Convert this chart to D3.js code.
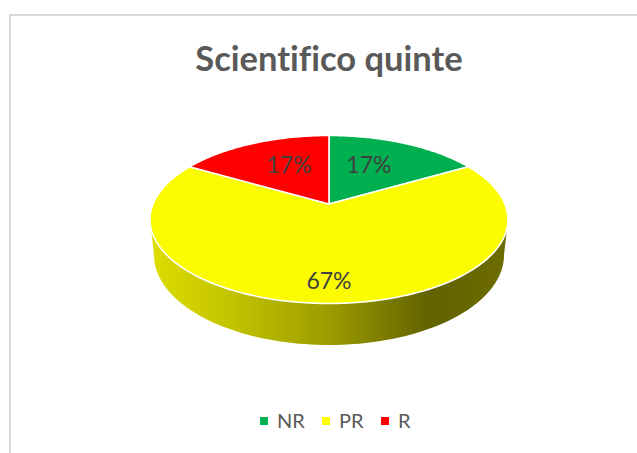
<!DOCTYPE html>
<html>
<head>
<meta charset="utf-8">
<script src="https://cdn.jsdelivr.net/npm/d3@7/dist/d3.min.js"></script>
<style>
html,body{margin:0;padding:0;background:#fff;overflow:hidden}
text{font-family:Lato,"Open Sans",sans-serif;fill:#595959;font-variant-ligatures:none}
</style>
</head>
<body>
<svg id="c" width="637" height="453"></svg>
<script>
const title = "Scientifico quinte";
const categories = ["NR", "PR", "R"];
const values = [1, 4, 1];
const labels = ["17%", "67%", "17%"];
const colors = ["#00B050", "#FCFC00", "#FF0000"];

const svg = d3.select("#c");
const cx = 329, cy = 219.5, rx = 179, ry = 84, k = -0.185;
const labelR = [0.583, 0.81, 0.583];
const labelShift = [-4.7, 0, 4.7].map(d => d * Math.PI / 180);

// perspective projection of the unit disc on the ellipse of the top face
function project(angle, r) {
  const x = r * Math.sin(angle), y = -r * Math.cos(angle);
  const d = 1 + k * y;
  return [cx + rx * x * Math.sqrt(1 - k * k) / d, cy + ry * (y + k) / d];
}

// frame
svg.append("line").attr("x1", 10).attr("y1", 15).attr("x2", 637).attr("y2", 15)
  .attr("stroke", "#d9d9d9").attr("stroke-width", 2);
svg.append("line").attr("x1", 10).attr("y1", 14).attr("x2", 10).attr("y2", 453)
  .attr("stroke", "#d9d9d9").attr("stroke-width", 2);

// side wall gradient
const grad = svg.append("defs").append("linearGradient").attr("id", "side")
  .attr("gradientUnits", "userSpaceOnUse").attr("x1", 150).attr("x2", 508).attr("y1", 0).attr("y2", 0);
[[0, "#dede00"], [0.22, "#c4c400"], [0.5, "#9c9c00"], [0.78, "#626200"], [1, "#6c6c00"]]
  .forEach(([o, c]) => grad.append("stop").attr("offset", o).attr("stop-color", c));

const line = d3.line();
const ts = d3.range(0, 181, 2).map(d => d * Math.PI / 180);
const sidePts = ts.map(t => [cx + rx * Math.cos(t), cy + ry * Math.sin(t)])
  .concat(ts.slice().reverse().map(t => [cx + 175 * Math.cos(t), 255 + 90 * Math.sin(t)]));
svg.append("path").attr("d", line(sidePts) + "Z").attr("fill", "url(#side)");

// top face
const pie = d3.pie().sort(null).value(d => d)(values);
pie.forEach((s, i) => {
  const n = Math.max(2, Math.round((s.endAngle - s.startAngle) * 60));
  const pts = [project(0, 0)];
  for (let j = 0; j <= n; j++) pts.push(project(s.startAngle + (s.endAngle - s.startAngle) * j / n, 1));
  svg.append("path").attr("d", line(pts) + "Z").attr("fill", colors[i])
    .attr("stroke", "#fff").attr("stroke-width", 1.6).attr("stroke-linejoin", "round");
});

// data labels
pie.forEach((s, i) => {
  const p = project((s.startAngle + s.endAngle) / 2 + labelShift[i], labelR[i]);
  svg.append("text").attr("x", p[0]).attr("y", p[1]).attr("dy", "0.35em")
    .attr("text-anchor", "middle").attr("font-size", 23).style("fill", "#404040").text(labels[i]);
});

// title
svg.append("text").attr("x", 329).attr("y", 71).attr("text-anchor", "middle")
  .attr("font-size", 34.5).attr("font-weight", 700).text(title);

// legend
const legX = d3.scaleOrdinal().domain(categories).range([260, 322, 381]);
categories.forEach((c, i) => {
  svg.append("rect").attr("x", legX(c)).attr("y", 417).attr("width", 8).attr("height", 8).attr("fill", i === 1 ? "#FFFF00" : colors[i]);
  svg.append("text").attr("x", legX(c) + 17).attr("y", 428).attr("font-size", 20).text(c);
});
</script>
</body>
</html>
